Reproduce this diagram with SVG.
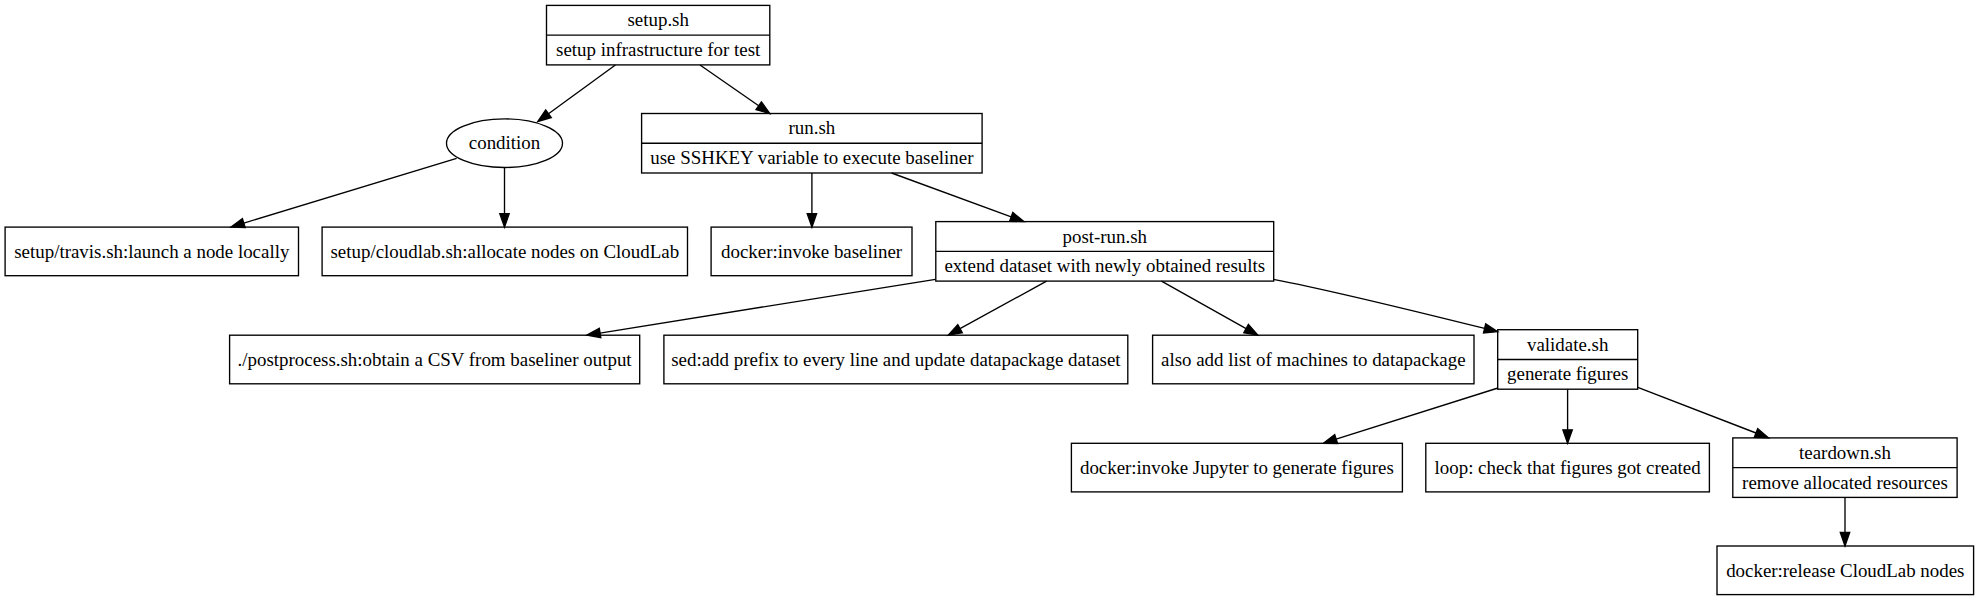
<svg xmlns="http://www.w3.org/2000/svg" width="1979" height="600" viewBox="0 0 1979 600">
<style>
.n{fill:none;stroke:#000;stroke-width:1.35}
.t{font-family:"Liberation Serif","Times New Roman",serif;font-size:18.92px;text-anchor:middle;fill:#000}
.e{fill:none;stroke:#000;stroke-width:1.35}
.a{fill:#000;stroke:#000;stroke-width:1.35}
</style>
<rect width="1979" height="600" fill="#fff"/>
<g id="setup">
<rect class="n" x="546.5" y="5.4" width="223.3" height="59.5"/>
<line class="n" x1="546.5" y1="35.15" x2="769.8" y2="35.15"/>
<text class="t" x="658.2" y="26.3">setup.sh</text>
<text class="t" x="658.2" y="56">setup infrastructure for test</text>
</g>
<g id="condition">
<ellipse class="n" cx="504.5" cy="143.2" rx="58" ry="24.3"/>
<text class="t" x="504.5" y="149.2">condition</text>
</g>
<g id="run">
<rect class="n" x="641.6" y="113.5" width="340.5" height="59.5"/>
<line class="n" x1="641.6" y1="143.25" x2="982.1" y2="143.25"/>
<text class="t" x="811.9" y="134.4">run.sh</text>
<text class="t" x="811.9" y="164.1">use SSHKEY variable to execute baseliner</text>
</g>
<g id="travis">
<rect class="n" x="5.1" y="227.1" width="293.4" height="48.6"/>
<text class="t" x="151.8" y="257.6">setup/travis.sh:launch a node locally</text>
</g>
<g id="cloudlab">
<rect class="n" x="322.1" y="227.1" width="365.4" height="48.6"/>
<text class="t" x="504.8" y="257.6">setup/cloudlab.sh:allocate nodes on CloudLab</text>
</g>
<g id="docker-baseliner">
<rect class="n" x="711.1" y="227.1" width="200.9" height="48.6"/>
<text class="t" x="811.6" y="257.6">docker:invoke baseliner</text>
</g>
<g id="post-run">
<rect class="n" x="935.8" y="221.6" width="337.9" height="59.5"/>
<line class="n" x1="935.8" y1="251.35" x2="1273.7" y2="251.35"/>
<text class="t" x="1104.8" y="242.5">post-run.sh</text>
<text class="t" x="1104.8" y="272.2">extend dataset with newly obtained results</text>
</g>
<g id="postprocess">
<rect class="n" x="229.6" y="335.2" width="410.1" height="48.6"/>
<text class="t" x="434.6" y="365.7">./postprocess.sh:obtain a CSV from baseliner output</text>
</g>
<g id="sed">
<rect class="n" x="663.9" y="335.2" width="463.9" height="48.6"/>
<text class="t" x="895.9" y="365.7">sed:add prefix to every line and update datapackage dataset</text>
</g>
<g id="also">
<rect class="n" x="1152.6" y="335.2" width="321.4" height="48.6"/>
<text class="t" x="1313.3" y="365.7">also add list of machines to datapackage</text>
</g>
<g id="validate">
<rect class="n" x="1497.7" y="329.7" width="140" height="59.5"/>
<line class="n" x1="1497.7" y1="359.45" x2="1637.7" y2="359.45"/>
<text class="t" x="1567.7" y="350.6">validate.sh</text>
<text class="t" x="1567.7" y="380.3">generate figures</text>
</g>
<g id="jupyter">
<rect class="n" x="1071.4" y="443.3" width="331" height="48.6"/>
<text class="t" x="1236.9" y="473.8">docker:invoke Jupyter to generate figures</text>
</g>
<g id="loop">
<rect class="n" x="1425.8" y="443.3" width="283.6" height="48.6"/>
<text class="t" x="1567.6" y="473.8">loop: check that figures got created</text>
</g>
<g id="teardown">
<rect class="n" x="1732.8" y="437.9" width="224.3" height="59.5"/>
<line class="n" x1="1732.8" y1="467.65" x2="1957.1" y2="467.65"/>
<text class="t" x="1845" y="458.8">teardown.sh</text>
<text class="t" x="1845" y="488.5">remove allocated resources</text>
</g>
<g id="release">
<rect class="n" x="1717" y="546" width="256.6" height="48.6"/>
<text class="t" x="1845.3" y="576.5">docker:release CloudLab nodes</text>
</g>
<g id="connectors">
<path class="e" d="M615.4,65 L548.5,113.75"/>
<polygon class="a" points="537.6,121.7 551.3,117.6 545.7,110"/>
<path class="e" d="M700,65 L758.7,105.8"/>
<polygon class="a" points="769.8,113.5 756,109.7 761.4,101.9"/>
<path class="e" d="M456.6,158.3 L243.8,223.1"/>
<polygon class="a" points="230.9,227.1 245.2,227.6 242.4,218.6"/>
<path class="e" d="M504.5,167.5 L504.5,213.6"/>
<polygon class="a" points="504.5,227.1 499.8,213.6 509.2,213.6"/>
<path class="e" d="M811.9,173 L811.9,213.6"/>
<polygon class="a" points="811.9,227.1 807.2,213.6 816.6,213.6"/>
<path class="e" d="M891.6,173 L1011.2,216.9"/>
<polygon class="a" points="1023.9,221.6 1009.6,221.3 1012.8,212.5"/>
<path class="e" d="M935.5,279.3 L600,333.1"/>
<polygon class="a" points="586.7,335.2 600.8,337.7 599.3,328.4"/>
<path class="e" d="M1046.6,281.1 L960,328.7"/>
<polygon class="a" points="948.2,335.2 962.3,332.8 957.8,324.6"/>
<path class="e" d="M1161.5,281.1 L1246.1,328.6"/>
<polygon class="a" points="1257.9,335.2 1243.8,332.7 1248.4,324.5"/>
<path class="e" d="M1273.3,279.3 C1330,290 1420,312.3 1484.6,328.4"/>
<polygon class="a" points="1497.7,331.7 1483.5,333 1485.7,323.9"/>
<path class="e" d="M1498,388 L1336.1,439.1"/>
<polygon class="a" points="1323.3,443.3 1337.6,443.6 1334.7,434.6"/>
<path class="e" d="M1567.6,389.2 L1567.6,429.8"/>
<polygon class="a" points="1567.6,443.3 1562.9,429.8 1572.3,429.8"/>
<path class="e" d="M1637.8,387.3 L1756,433"/>
<polygon class="a" points="1768.6,437.9 1754.3,437.4 1757.7,428.6"/>
<path class="e" d="M1845,497.4 L1845,532.5"/>
<polygon class="a" points="1845,546 1840.3,532.5 1849.7,532.5"/>
</g>
</svg>
